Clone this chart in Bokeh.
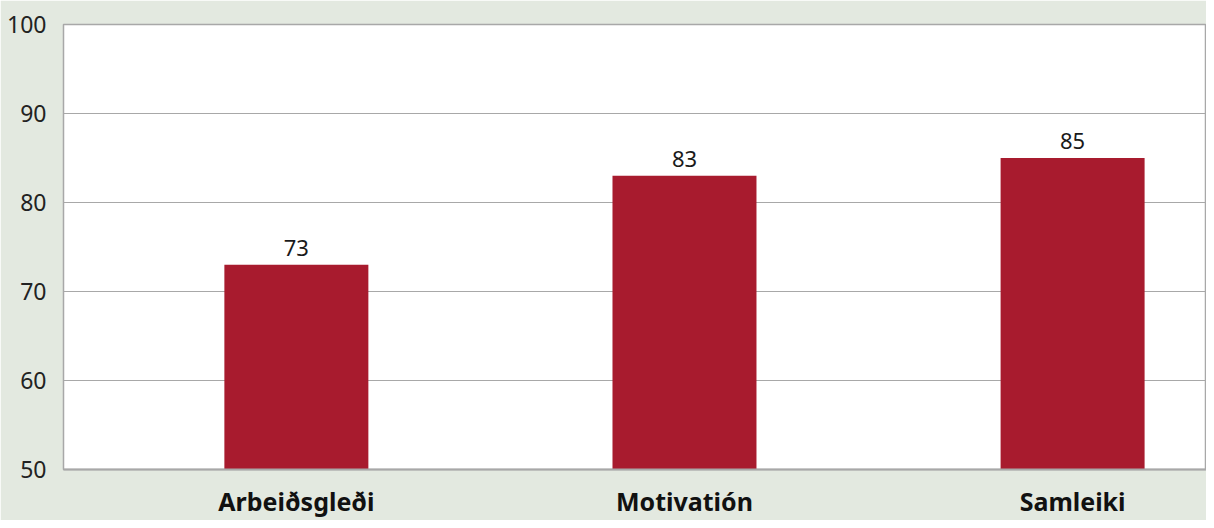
from bokeh.plotting import figure
from bokeh.models import Range1d, FixedTicker, ColumnDataSource
from bokeh.embed import file_html
from bokeh.resources import INLINE
from bokeh.core.properties import value

categories = ["Arbeiðsgleði", "Motivatión", "Samleiki"]
scores = [73, 83, 85]
y_ticks = [50, 60, 70, 80, 90, 100]

BG = "#e3e9e0"
BAR = "#a81b2e"
GRID = "#a8a8a8"
FONT = "Noto Sans"

xs = list(range(len(categories)))
src = ColumnDataSource(dict(x=xs, top=scores, label=[str(v) for v in scores]))

p = figure(width=1206, height=520, output_backend="svg", toolbar_location=None,
           x_range=Range1d(-0.6, 2.345), y_range=Range1d(50, 100),
           min_border_left=63, min_border_right=0, min_border_top=24, min_border_bottom=47)
p.background_fill_color = "white"
p.border_fill_color = BG
p.outline_line_color = GRID
p.outline_line_width = 1.5

p.vbar(x="x", top="top", bottom=50, width=0.371, source=src, fill_color=BAR, line_color=None)
p.text(x="x", y="top", text="label", source=src, text_align="center", text_baseline="bottom",
       y_offset=-9, text_font=value(FONT), text_font_size="22px", text_color="#1a1a1a")

p.xaxis.ticker = FixedTicker(ticks=xs)
p.xaxis.major_label_overrides = {i: c for i, c in enumerate(categories)}
p.xaxis.major_label_text_font = FONT
p.xaxis.major_label_text_font_style = "bold"
p.xaxis.major_label_text_font_size = "25px"
p.xaxis.major_label_text_color = "#111111"
p.xaxis.major_label_standoff = 8
p.xaxis.axis_line_color = GRID
p.xaxis.axis_line_width = 2
p.xaxis.major_tick_line_color = None
p.xaxis.minor_tick_line_color = None

p.yaxis.ticker = FixedTicker(ticks=y_ticks)
p.yaxis.axis_line_color = None
p.yaxis.major_tick_line_color = None
p.yaxis.minor_tick_line_color = None
p.yaxis.major_label_text_font = FONT
p.yaxis.major_label_text_font_size = "23px"
p.yaxis.major_label_text_color = "#222222"
p.yaxis.major_label_standoff = 11

p.xgrid.grid_line_color = None
p.ygrid.grid_line_color = GRID
p.ygrid.grid_line_width = 1.2

html = file_html(p, INLINE)
html = html.replace("<body>", '<body style="background-color:%s;">' % BG, 1)
open("out.html", "w").write(html)
